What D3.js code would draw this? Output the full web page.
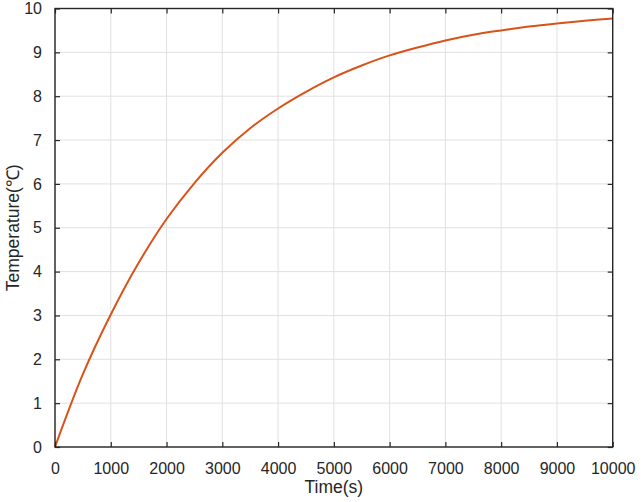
<!DOCTYPE html>
<html>
<head>
<meta charset="utf-8">
<script src="https://cdn.jsdelivr.net/npm/d3@7"></script>
<style>
  body { margin: 0; background: #fff; }
  text { font-family: "Liberation Sans", Arial, sans-serif; fill: #262626; }
</style>
</head>
<body>
<div id="chart"></div>
<script>
// values
var timeVals = [0, 500, 1000, 1500, 2000, 2500, 3000, 3500, 4000, 4500, 5000, 5500, 6000, 6500, 7000, 7500, 8000, 8500, 9000, 9500, 10000];
var tempVals = [0, 1.66, 3.02, 4.2, 5.2, 6.02, 6.71, 7.27, 7.72, 8.1, 8.43, 8.7, 8.93, 9.11, 9.27, 9.4, 9.5, 9.59, 9.66, 9.72, 9.77];
var xTicks = [0, 1000, 2000, 3000, 4000, 5000, 6000, 7000, 8000, 9000, 10000];
var yTicks = [0, 1, 2, 3, 4, 5, 6, 7, 8, 9, 10];

var svgWidth = 644;
var svgHeight = 502;

var margin = {
  top: 8.5,
  right: 31.3,
  bottom: 55,
  left: 55
};

var width = svgWidth - margin.left - margin.right;
var height = svgHeight - margin.top - margin.bottom;

var svg = d3.select("#chart")
  .append("svg")
  .attr("width", svgWidth)
  .attr("height", svgHeight);

var chartGroup = svg.append("g")
  .attr("transform", `translate(${margin.left}, ${margin.top})`);

var data = timeVals.map((t, i) => ({ t: t, temp: tempVals[i] }));

var xScale = d3.scaleLinear()
  .domain([0, 10000])
  .range([0, width]);

var yScale = d3.scaleLinear()
  .domain([0, 10])
  .range([height, 0]);

// grid
chartGroup.append("g")
  .selectAll("line.vg")
  .data(xTicks)
  .enter()
  .append("line")
  .attr("x1", d => xScale(d)).attr("x2", d => xScale(d))
  .attr("y1", 0).attr("y2", height)
  .attr("stroke", "#e1e1e1").attr("stroke-width", 1);

chartGroup.append("g")
  .selectAll("line.hg")
  .data(yTicks)
  .enter()
  .append("line")
  .attr("y1", d => yScale(d)).attr("y2", d => yScale(d))
  .attr("x1", 0).attr("x2", width)
  .attr("stroke", "#e1e1e1").attr("stroke-width", 1);

// curve
var line = d3.line()
  .x(d => xScale(d.t))
  .y(d => yScale(d.temp))
  .curve(d3.curveCatmullRom.alpha(0.5));

chartGroup.append("path")
  .datum(data)
  .attr("d", line)
  .attr("fill", "none")
  .attr("stroke", "#D95319")
  .attr("stroke-width", 2);

// axes, ticks inward on all four sides
function styleAxis(g) {
  g.select(".domain").remove();
  g.selectAll(".tick line").attr("stroke", "#262626").attr("stroke-width", 1.2);
  g.selectAll(".tick text").style("font-size", "16px").attr("fill", "#262626");
}

var bottomAxis = d3.axisBottom(xScale).tickValues(xTicks).tickSize(-5).tickPadding(16).tickFormat(d3.format("d"));
var topAxis = d3.axisTop(xScale).tickValues(xTicks).tickSize(-5).tickFormat("");
var leftAxis = d3.axisLeft(yScale).tickValues(yTicks).tickSize(-5).tickPadding(13).tickFormat(d3.format("d"));
var rightAxis = d3.axisRight(yScale).tickValues(yTicks).tickSize(-5).tickFormat("");

chartGroup.append("g").attr("transform", `translate(0, ${height})`).call(bottomAxis).call(styleAxis);
chartGroup.append("g").call(topAxis).call(styleAxis);
chartGroup.append("g").call(leftAxis).call(styleAxis);
chartGroup.append("g").attr("transform", `translate(${width}, 0)`).call(rightAxis).call(styleAxis);

// box
chartGroup.append("rect")
  .attr("x", 0).attr("y", 0)
  .attr("width", width).attr("height", height)
  .attr("fill", "none")
  .attr("stroke", "#262626")
  .attr("stroke-width", 1.4);

// axis labels
chartGroup.append("text")
  .attr("x", width / 2)
  .attr("y", height + 46)
  .attr("text-anchor", "middle")
  .style("font-size", "17.5px")
  .text("Time(s)");

chartGroup.append("text")
  .attr("transform", `translate(${-36}, ${height / 2})rotate(-90)`)
  .attr("text-anchor", "middle")
  .style("font-size", "17.5px")
  .text("Temperature(℃)");
</script>
</body>
</html>
